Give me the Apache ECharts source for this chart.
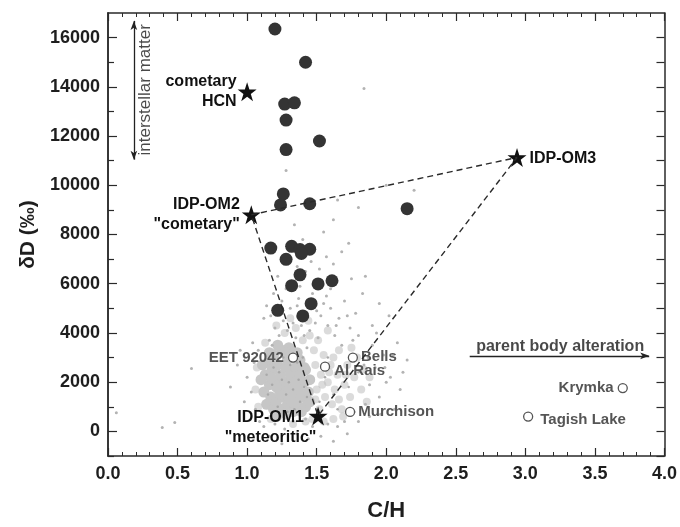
<!DOCTYPE html>
<html>
<head>
<meta charset="utf-8">
<script src="https://cdn.jsdelivr.net/npm/echarts@6/dist/echarts.min.js"></script>
<style>
  html, body { margin: 0; background: #fff; }
  #chart { width: 680px; height: 527px; }
</style>
</head>
<body>
<div id="chart"></div>
<script>
// axis ticks
const xTicks = [0, 0.5, 1, 1.5, 2, 2.5, 3, 3.5, 4]
const yMajor = [0, 2000, 4000, 6000, 8000, 10000, 12000, 14000, 16000]
const yMinor = [-1000, 1000, 3000, 5000, 7000, 9000, 11000, 13000, 15000]

// IDP measurements (filled circles)
const idpCH = [1.20, 1.42, 1.27, 1.34, 1.28, 1.52, 1.28, 1.26, 1.24, 1.45, 2.15,
  1.17, 1.32, 1.38, 1.45, 1.39, 1.28, 1.38, 1.32, 1.51, 1.61, 1.46, 1.22, 1.40]
const idpDD = [16350, 15000, 13300, 13350, 12650, 11800, 11450, 9650, 9200, 9250, 9050,
  7450, 7520, 7390, 7400, 7230, 6990, 6360, 5920, 5990, 6120, 5190, 4920, 4690]

// end members (stars)
const endName = ['cometary\nHCN', 'IDP-OM2\n"cometary"', 'IDP-OM3', 'IDP-OM1\n"meteoritic"']
const endCH = [1.00, 1.03, 2.94, 1.51]
const endDD = [13800, 8800, 11130, 630]

// meteorites (open circles)
const metName = ['EET 92042', 'Al Rais', 'Bells', 'Murchison', 'Krymka', 'Tagish Lake']
const metCH = [1.33, 1.56, 1.76, 1.74, 3.70, 3.02]
const metDD = [3000, 2630, 3000, 790, 1760, 600]

// grey background population: dense core, halo, sparse dots
const cloudCore = [[1.12,1600],[1.13,2300],[1.14,1100],[1.15,2800],[1.16,1900],[1.17,1400],[1.18,2500],
  [1.19,900],[1.19,3100],[1.20,2000],[1.21,1200],[1.22,2700],[1.23,1700],[1.24,2300],[1.25,900],
  [1.25,3300],[1.26,1400],[1.27,2000],[1.28,2600],[1.29,1100],[1.30,1700],[1.31,2300],[1.32,3000],
  [1.33,800],[1.33,1400],[1.34,2000],[1.35,2600],[1.36,1100],[1.37,1700],[1.38,2300],[1.38,2900],
  [1.40,1400],[1.41,2000],[1.42,1000],[1.42,2500],[1.44,1600],[1.45,2100],[1.22,3500],[1.30,3400],
  [1.36,3200],[1.16,3200],[1.28,700],[1.21,600],[1.10,2100],[1.11,2700],[1.17,2200],[1.24,1500],
  [1.29,2900],[1.35,1800],[1.41,2600],[1.21,1800],[1.32,1200],[1.27,3200],[1.39,800],[1.45,1200]]
const cloudHalo = [[1.49,2700],[1.50,1700],[1.52,900],[1.53,2300],[1.55,3100],[1.56,1400],[1.58,2000],
  [1.60,2700],[1.61,1100],[1.63,1700],[1.65,2300],[1.66,3300],[1.68,900],[1.70,1900],[1.72,2700],
  [1.74,1400],[1.77,2200],[1.79,3000],[1.82,1700],[1.84,2500],[1.51,3700],[1.58,4100],[1.45,3900],
  [1.62,500],[1.55,400],[1.47,500],[1.35,4200],[1.27,4000],[1.54,1900],[1.59,2400],[1.66,1300],
  [1.71,2300],[1.49,1300],[1.62,3000],[1.40,3700],[1.21,4300],[1.31,4600],[1.44,4500],[1.06,1700],
  [1.07,2600],[1.08,1000],[1.13,3600],[1.17,500],[1.33,300],[1.42,400],[1.75,3400],[1.88,2200],
  [1.86,1200],[1.69,600],[1.48,3300]]
const cloudSpeck = [[1.15,1500],[1.19,2600],[1.22,1000],[1.25,2100],[1.28,1500],[1.31,2700],[1.34,900],
  [1.37,2100],[1.40,3000],[1.43,1400],[1.18,1900],[1.26,3000],[1.33,1700],[1.23,2400],[1.29,800],
  [1.36,2800],[1.41,1800],[1.14,2300],[1.30,2000],[1.38,1200],[1.56,2200],[1.62,1500],[1.68,2500],
  [1.73,1800],[1.58,3000],[1.52,1200],[1.80,2400],[1.65,900]]
const cloudDots = [[1.16,3700],[1.20,4200],[1.23,3900],[1.26,4500],[1.29,4100],[1.31,5000],[1.33,4400],
  [1.35,3800],[1.37,5400],[1.39,4300],[1.41,3900],[1.43,4800],[1.45,4100],[1.47,5600],[1.49,4400],
  [1.51,3800],[1.53,4700],[1.55,5200],[1.58,4300],[1.60,5000],[1.63,3900],[1.66,4600],[1.70,5300],
  [1.74,4200],[1.78,4800],[1.83,5600],[1.25,5300],[1.28,5800],[1.34,6100],[1.36,6700],[1.42,6500],
  [1.46,6900],[1.52,6600],[1.57,7100],[1.62,6800],[1.68,7300],[1.73,7640],[1.30,7100],[1.22,6300],
  [1.19,5600],[1.40,7800],[1.48,7500],[1.55,8100],[1.34,8400],[1.62,8600],[1.85,6300],[1.95,5200],
  [1.90,4300],[2.02,4700],[2.08,3600],[1.00,2200],[1.03,1600],[1.05,2800],[1.06,900],[1.08,3300],
  [1.09,400],[1.04,3600],[0.98,1200],[1.12,200],[1.16,-200],[1.20,300],[1.27,100],[1.33,400],
  [1.36,-100],[1.42,500],[1.47,200],[1.53,-200],[1.58,300],[1.65,200],[1.72,-100],[1.80,400],
  [1.85,1100],[1.88,1900],[1.92,2600],[1.95,1400],[1.98,3100],[2.03,2200],[2.06,900],[2.10,1700],
  [2.15,2900],[1.84,2700],[1.90,3500],[1.76,3700],[1.70,400],[1.62,-400],[1.44,-300],[1.25,-500],
  [0.93,2700],[0.88,1800],[0.95,3300],[0.39,160],[0.48,360],[0.60,2560],[0.06,760],[1.84,13930],
  [2.20,9800],[1.65,9400],[1.80,9100],[1.28,10600],[2.00,10000],[1.18,3500],[1.43,3400],[1.50,4900],
  [1.12,4600],[1.38,5900],[1.60,5800],[1.75,6200],[1.68,3500],[1.87,3000],[2.00,2000],
  [1.14,5100],[1.17,4700],[1.24,4900],[1.36,5100],[1.44,5300],[1.57,5500],[1.64,4300],[1.72,4700],
  [1.80,3900],[1.93,4000],[1.99,2600],[2.05,3100],[2.12,2400],[1.96,700],[1.88,600],[1.77,800]]

// annotations
const noteName = ['interstellar matter', 'parent body alteration']
const noteCH = [0.265, 3.25]
const noteDD = [13880, 3440]
const arrowISM = [[0.186, 16680], [0.186, 11040]]
const arrowPBA = [[2.60, 3070], [3.89, 3070]]

const font = "'Liberation Sans', Arial, sans-serif"
const starPath = 'path://M50,0 L61.8,35.4 L99,35.4 L69,57.3 L80.4,92.7 L50,70.8 L19.6,92.7 L31,57.3 L1,35.4 L38.2,35.4 Z'

// label placement per end member
const endLabel = [
  { position: 'left', distance: 1, align: 'right' },
  { position: 'left', distance: 2, align: 'right' },
  { position: 'right', distance: 3, align: 'left', offset: [0, 1] },
  { position: [-38, 1], align: 'center', verticalAlign: 'top' }
]
const metLabel = [
  { position: 'left', distance: 4 },
  { position: 'right', distance: 4, offset: [0, 4] },
  { position: 'right', distance: 3, offset: [0, -1] },
  { position: 'right', distance: 3 },
  { position: 'left', distance: 4 },
  { position: 'right', distance: 7, offset: [0, 3] }
]

const chart = echarts.init(document.getElementById('chart'))

const axisLine = { show: true, onZero: false, lineStyle: { color: '#2a2a2a', width: 1.5 } }
const tickLabel = { color: '#1e1e1e', fontSize: 18, fontWeight: 'bold', fontFamily: font }

const xBase = {
  type: 'value', min: 0, max: 4, interval: 0.5,
  axisLine: axisLine,
  axisTick: { inside: true, length: 8, lineStyle: { color: '#2a2a2a', width: 1.2 } },
  minorTick: { show: true, splitNumber: 5, length: 4, lineStyle: { color: '#2a2a2a', width: 1 } },
  splitLine: { show: false }
}
const yBase = {
  type: 'value', min: -1000, max: 17000,
  axisLine: axisLine,
  splitLine: { show: false }
}

chart.setOption({
  animation: false,
  backgroundColor: '#fff',
  grid: { left: 108, right: 14, top: 13, bottom: 63 },
  xAxis: [
    Object.assign({}, xBase, {
      position: 'bottom',
      axisLabel: Object.assign({}, tickLabel, { margin: 9, formatter: v => v.toFixed(1), customValues: xTicks }),
      name: 'C/H', nameLocation: 'middle', nameGap: 44,
      nameTextStyle: { color: '#1e1e1e', fontSize: 22, fontWeight: 'bold', fontFamily: font }
    }),
    Object.assign({}, xBase, { position: 'top', axisLabel: { show: false } })
  ],
  yAxis: [
    Object.assign({}, yBase, {
      position: 'left',
      axisTick: { inside: true, length: 9, customValues: yMajor, lineStyle: { color: '#2a2a2a', width: 1.2 } },
      axisLabel: Object.assign({}, tickLabel, { margin: 8, customValues: yMajor, formatter: v => String(v) }),
      name: 'δD (‰)', nameLocation: 'middle', nameGap: 69,
      nameTextStyle: { color: '#1e1e1e', fontSize: 21, fontWeight: 'bold', fontFamily: font }
    }),
    Object.assign({}, yBase, {
      position: 'left',
      axisTick: { inside: true, length: 6, customValues: yMinor, lineStyle: { color: '#2a2a2a', width: 1.2 } },
      axisLabel: { show: false }
    }),
    Object.assign({}, yBase, {
      position: 'right',
      axisTick: { inside: true, length: 8, customValues: yMajor.concat(yMinor), lineStyle: { color: '#2a2a2a', width: 1.2 } },
      axisLabel: { show: false }
    })
  ],
  series: [
    {
      name: 'cloud halo', type: 'scatter', silent: true, symbolSize: 8,
      itemStyle: { color: 'rgba(190,190,190,0.55)', opacity: 1 },
      data: cloudHalo
    },
    {
      name: 'cloud core', type: 'scatter', silent: true, symbolSize: 11,
      itemStyle: { color: '#c6c6c6', opacity: 1 },
      data: cloudCore
    },
    {
      name: 'cloud speck', type: 'scatter', silent: true, symbolSize: 2.5,
      itemStyle: { color: '#a9a9a9', opacity: 1 },
      data: cloudSpeck
    },
    {
      name: 'cloud', type: 'scatter', silent: true, symbolSize: 3,
      itemStyle: { color: '#b3b3b3', opacity: 1 },
      data: cloudDots
    },
    {
      // mixing triangle OM2 -> OM3 -> OM1 -> OM2
      name: 'mixing', type: 'line', silent: true, symbol: 'none',
      lineStyle: { color: '#2a2a2a', width: 1.4, type: [6, 4] },
      data: [1, 2, 3, 1].map(i => [endCH[i], endDD[i]])
    },
    {
      name: 'IDP', type: 'scatter', symbolSize: 13,
      itemStyle: { color: '#343434', opacity: 1 },
      data: idpCH.map((x, i) => [x, idpDD[i]])
    },
    {
      name: 'meteorites', type: 'scatter', symbol: 'circle', symbolSize: 9,
      itemStyle: { color: '#fff', borderColor: '#555', borderWidth: 1.3, opacity: 1 },
      label: { show: true, color: '#555', fontSize: 15, fontWeight: 'bold', fontFamily: font },
      data: metCH.map((x, i) => ({
        value: [x, metDD[i]],
        label: Object.assign({ formatter: metName[i] }, metLabel[i])
      }))
    },
    {
      name: 'end members', type: 'scatter', symbol: starPath, symbolSize: 19,
      itemStyle: { color: '#111', opacity: 1 },
      label: { show: true, color: '#111', fontSize: 16, fontWeight: 'bold', fontFamily: font, lineHeight: 20 },
      data: endCH.map((x, i) => ({
        value: [x, endDD[i]],
        label: Object.assign({ formatter: endName[i] }, endLabel[i])
      }))
    },
    {
      name: 'notes', type: 'scatter', silent: true, symbolSize: 0,
      label: { show: true, position: 'inside', color: '#1a1a1a', fontSize: 16, fontFamily: font },
      data: [
        { value: [noteCH[0], noteDD[0]], label: { formatter: noteName[0], rotate: 90, fontSize: 17 } },
        { value: [noteCH[1], noteDD[1]], label: { formatter: noteName[1], fontWeight: 'bold' } }
      ],
      markLine: {
        silent: true, animation: false,
        label: { show: false },
        lineStyle: { color: '#222', width: 1.3, type: 'solid' },
        data: [
          [{ coord: arrowISM[0], symbol: 'arrow', symbolSize: [5, 9] }, { coord: arrowISM[1], symbol: 'arrow', symbolSize: [5, 9] }],
          [{ coord: arrowPBA[0], symbol: 'none' }, { coord: arrowPBA[1], symbol: 'arrow', symbolSize: [5, 9] }]
        ]
      }
    }
  ]
})
</script>
</body>
</html>
